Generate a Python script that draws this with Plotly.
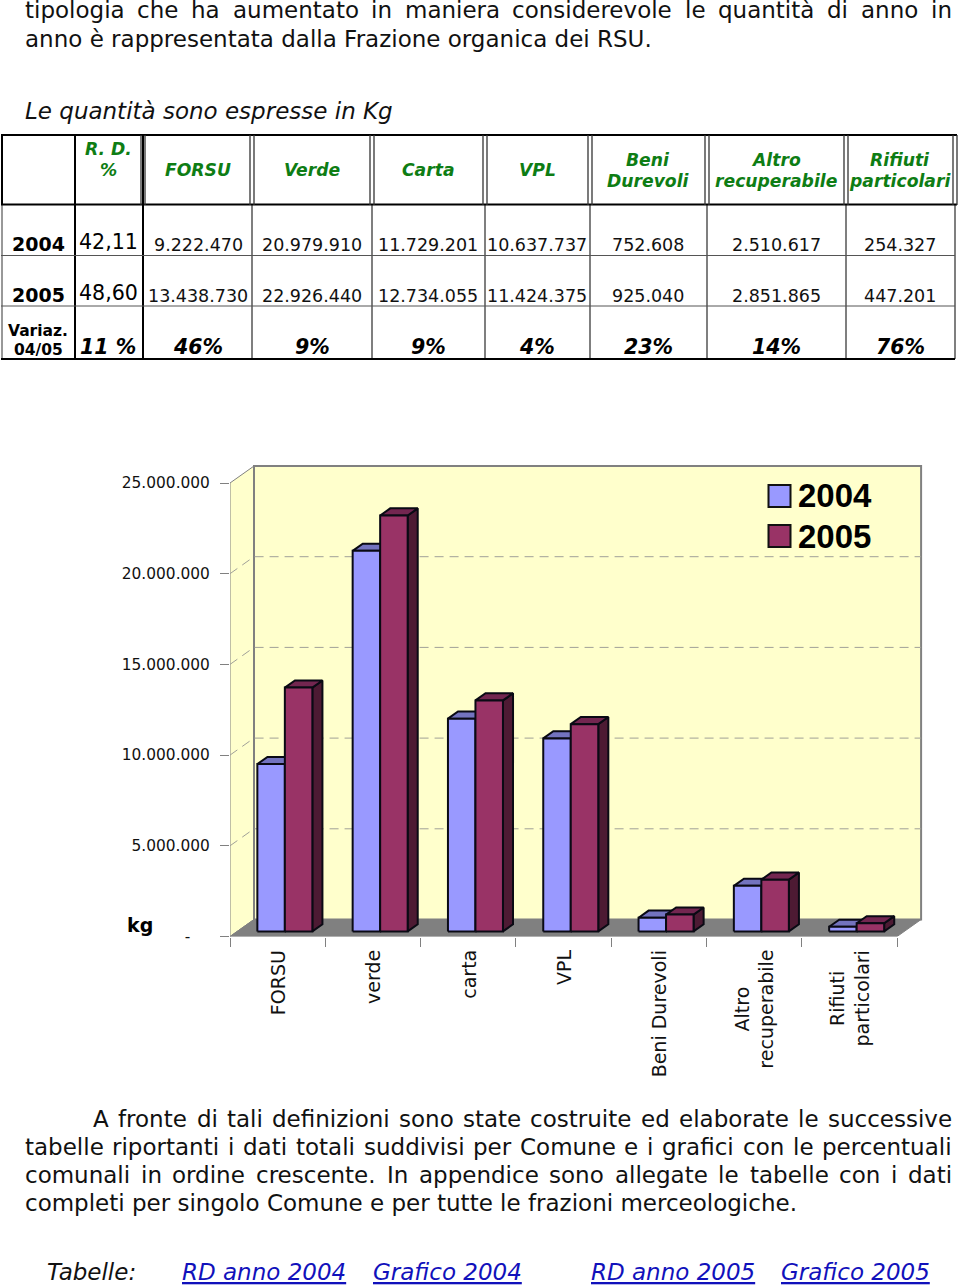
import plotly.graph_objects as go

# ---------- data ----------
categories = ["FORSU", "verde", "carta", "VPL", "Beni Durevoli", "Altro<br>recuperabile", "Rifiuti<br>particolari"]
series_names = ["2004", "2005"]
values_2004 = [9222470, 20979910, 11729201, 10637737, 752608, 2510617, 254327]
values_2005 = [13438730, 22926440, 12734055, 11424375, 925040, 2851865, 447201]
y_ticks = [0, 5000000, 10000000, 15000000, 20000000, 25000000]
y_tick_labels = ["-\u00a0\u00a0\u00a0\u00a0", "5.000.000", "10.000.000", "15.000.000", "20.000.000", "25.000.000"]

table_headers = [["R. D.", "%"], ["FORSU"], ["Verde"], ["Carta"], ["VPL"], ["Beni", "Durevoli"], ["Altro", "recuperabile"], ["Rifiuti", "particolari"]]
row_2004 = ["9.222.470", "20.979.910", "11.729.201", "10.637.737", "752.608", "2.510.617", "254.327"]
row_2005 = ["13.438.730", "22.926.440", "12.734.055", "11.424.375", "925.040", "2.851.865", "447.201"]
row_var = ["11 %", "46%", "9%", "9%", "4%", "23%", "14%", "76%"]
rd_values = ["42,11", "48,60"]

top_lines = ["tipologia che ha aumentato in maniera considerevole le quantità di anno in",
             "anno è rappresentata dalla Frazione organica dei RSU."]
unit_line = "Le quantità sono espresse in Kg"
para_lines = ["A fronte di tali definizioni sono state costruite ed elaborate le successive",
              "tabelle riportanti i dati totali suddivisi per Comune e i grafici con le percentuali",
              "comunali in ordine crescente. In appendice sono allegate le tabelle con i dati",
              "completi per singolo Comune e per tutte le frazioni merceologiche."]
links = ["RD anno 2004", "Grafico 2004", "RD anno 2005", "Grafico 2005"]

# ---------- layout constants ----------
W, H = 960, 1285
FONT = "DejaVu Sans"
PLOT_L, PLOT_R, PLOT_T, PLOT_B = 230.0, 930.0, 460.0, 936.5
PX_PER_CAT = 95.3
PX_PER_UNIT = 90.7 / 5000000
DEPTH_X = 24 / PX_PER_CAT
DEPTH_Y = 17 / PX_PER_UNIT
BAR_W = 27.5 / PX_PER_CAT
T_FRONT, T_BACK = 0.30, 0.72
NCAT = len(categories)
YMAX = y_ticks[-1]

GREEN = "#0E7D14"
GREY = "#808080"
WALL = "#FFFFCC"
FACE = {"2004": ("#9999FF", "#7373BF", "#4D4D80"), "2005": ("#993366", "#732650", "#4D1A33")}

def px(x):
    return x / W
def py(y):
    return 1 - y / H

annotations, shapes = [], []

def text(x, y, s, size, anchor="center", weight="normal", style="normal", color="black", family=FONT):
    annotations.append(dict(xref="paper", yref="paper", x=px(x), y=py(y), text=s, showarrow=False,
                            xanchor=anchor, yanchor="middle", borderpad=0,
                            font=dict(family=family, size=size, weight=weight, style=style, color=color)))

WIDTHS = dict(a=.613, b=.635, c=.550, d=.635, e=.615, f=.352, g=.635, h=.634, i=.278, j=.278, k=.579, l=.278,
              m=.974, n=.634, o=.612, p=.635, q=.635, r=.411, s=.521, t=.392, u=.634, v=.592, w=.818, x=.592,
              y=.592, z=.525, A=.684, I=.295, C=.698)
WIDTHS.update({"à": .613, "è": .615, ".": .318, ",": .318})

def justified(line, left, right, y, size):
    words = line.split(" ")
    widths = [sum(WIDTHS.get(c, .6) for c in w) * size for w in words]
    gap = (right - left - sum(widths)) / (len(words) - 1)
    x = left
    for w, wd in zip(words, widths):
        text(x, y, w, size, anchor="left", color="#111111")
        x += wd + gap

def pline(x0, y0, x1, y1, color="black", width=1):
    shapes.append(dict(type="line", xref="paper", yref="paper", x0=px(x0), y0=py(y0), x1=px(x1), y1=py(y1),
                       line=dict(color=color, width=width)))

# ---------- page text ----------
justified(top_lines[0], 24, 951, 10, 23)
text(24, 39, top_lines[1], 23, anchor="left", color="#111111")
text(24, 111, unit_line, 23, anchor="left", style="italic", color="#111111")
justified(para_lines[0], 92, 951, 1119, 23)
justified(para_lines[1], 24, 951, 1147, 23)
justified(para_lines[2], 24, 951, 1175, 23)
text(24, 1203, para_lines[3], 23, anchor="left", color="#111111")
text(46, 1272, "Tabelle:", 23, anchor="left", style="italic", color="#111111")
for s, x in zip(links, [181, 372, 590, 780]):
    text(x, 1272, "<u>" + s + "</u>", 23, anchor="left", style="italic", color="#1111BB")

# ---------- table ----------
col_x = [143, 252, 372, 485, 590, 707, 846, 955]
col_c = [108, 198, 312, 428, 537, 648, 776, 900]
for x in col_x[1:]:
    pline(x, 205, x, 359, "#555555", 1.5)
for x in [75, 143]:
    pline(x, 135, x, 359, "black", 2)
pline(2, 135, 2, 205, "black", 2)
pline(2, 205, 2, 359, "#333333", 1)
pline(1, 135, 957, 135, "black", 2)
pline(1, 204.5, 957, 204.5, "black", 2)
pline(1, 255.5, 955, 255.5, "#555555", 1)
pline(1, 306, 955, 306, "#555555", 1)
pline(1, 359, 955, 359, "black", 2)
for x in col_x:
    pline(x - 2, 135, x - 2, 205, "#333333", 1.3)
    pline(x + 2, 135, x + 2, 205, "#333333", 1.3)

for lines, c in zip(table_headers, col_c):
    ys = [170] if len(lines) == 1 else ([149, 170] if lines[0] == "R. D." else [160, 181])
    for s, y in zip(lines, ys):
        text(c, y, s, 17.2, weight="bold", style="italic", color=GREEN)

text(38, 244, series_names[0], 19, weight="bold")
text(38, 295, series_names[1], 19, weight="bold")
text(108, 242, rd_values[0], 20.6)
text(108, 293, rd_values[1], 20.6)
for s, c in zip(row_2004, col_c[1:]):
    text(c, 245, s, 17.5, color="#111111")
for s, c in zip(row_2005, col_c[1:]):
    text(c, 296, s, 17.5, color="#111111")
text(38, 331, "Variaz.", 15.5, weight="bold")
text(38, 350, "04/05", 15.5, weight="bold")
for s, c in zip(row_var, col_c):
    text(c, 347, s, 20.5, weight="bold", style="italic")

# ---------- chart walls, floor and grid (data coordinates, behind the traces) ----------
def dshape(xs, ys, fill, line_color, line_width, dash="solid"):
    path = "M" + " L".join(f"{x},{y}" for x, y in zip(xs, ys))
    shapes.append(dict(type="path", xref="x", yref="y", path=path + (" Z" if fill else ""), layer="below",
                       fillcolor=fill or "rgba(0,0,0,0)", line=dict(color=line_color, width=line_width, dash=dash)))

dshape([0, DEPTH_X, DEPTH_X, 0], [0, DEPTH_Y, YMAX + DEPTH_Y, YMAX], WALL, GREY, 1)
dshape([DEPTH_X, NCAT + DEPTH_X, NCAT + DEPTH_X, DEPTH_X], [DEPTH_Y, DEPTH_Y, YMAX + DEPTH_Y, YMAX + DEPTH_Y], WALL, GREY, 2)
for t in y_ticks[1:-1]:
    dshape([0, DEPTH_X, NCAT + DEPTH_X], [t, t + DEPTH_Y, t + DEPTH_Y], None, "#A0A098", 1, "9px,6px")
dshape([0, DEPTH_X, NCAT + DEPTH_X, NCAT], [0, DEPTH_Y, DEPTH_Y, 0], GREY, GREY, 1)

# ---------- bars ----------
fig = go.Figure()

def face(xs, ys, color, name):
    fig.add_trace(go.Scatter(x=xs + xs[:1], y=ys + ys[:1], mode="lines", fill="toself", fillcolor=color,
                             line=dict(color="#0A0A14", width=2), name=name, showlegend=False, hoverinfo="skip"))

for i, cat in enumerate(categories):
    centre = i + 0.5 + T_FRONT * DEPTH_X
    base = T_FRONT * DEPTH_Y
    dx = (T_BACK - T_FRONT) * DEPTH_X
    dy = (T_BACK - T_FRONT) * DEPTH_Y
    for name, vals, left in ((series_names[0], values_2004, centre - BAR_W), (series_names[1], values_2005, centre)):
        top = vals[i] + base
        front, top_c, side = FACE[name]
        right = left + BAR_W
        face([right, right + dx, right + dx, right], [base, base + dy, top + dy, top], side, f"{name} side")
        face([left, left + dx, right + dx, right], [top, top + dy, top + dy, top], top_c, f"{name} top")
        face([left, right, right, left], [base, base, top, top], front, f"{name} {cat}")
    annotations.append(dict(xref="x", yref="paper", x=i + 0.5, y=py(949), text=cat, showarrow=False, textangle=-90,
                            xanchor="center", yanchor="top", align="center", borderpad=0,
                            font=dict(family=FONT, size=19, color="#111111")))

# ---------- legend ----------
for name, y in zip(series_names, (496, 536)):
    shapes.append(dict(type="rect", xref="paper", yref="paper", x0=px(768.5), x1=px(790.5), y0=py(y - 11), y1=py(y + 11),
                       fillcolor=FACE[name][0], line=dict(color="#111111", width=2)))
    text(797, y, name, 33, anchor="left", weight="bold", family="Liberation Sans")
text(140, 925, "kg", 19, weight="bold")

fig.update_layout(
    width=W, height=H, margin=dict(l=0, r=0, t=0, b=0, autoexpand=False), paper_bgcolor="white", plot_bgcolor="rgba(0,0,0,0)",
    showlegend=False, annotations=annotations, shapes=shapes,
    xaxis=dict(domain=[px(PLOT_L), px(PLOT_R)], range=[0, (PLOT_R - PLOT_L) / PX_PER_CAT], showgrid=False, zeroline=False,
               showline=False, tickmode="array", tickvals=list(range(NCAT + 1)), showticklabels=False,
               ticks="outside", ticklen=9, tickcolor=GREY, tickwidth=1),
    yaxis=dict(domain=[py(PLOT_B), py(PLOT_T)], range=[0, (PLOT_B - PLOT_T) / PX_PER_UNIT], showgrid=False, zeroline=False,
               showline=False, tickmode="array", tickvals=y_ticks, ticktext=y_tick_labels,
               ticks="outside", ticklen=9, tickcolor=GREY, tickwidth=1,
               tickfont=dict(family=FONT, size=15.4, color="#111111"), ticklabelstandoff=7),
)
fig.write_html("out.html", config={"displayModeBar": False},
               post_script="document.body.style.margin='0';document.body.style.overflow='hidden';")
